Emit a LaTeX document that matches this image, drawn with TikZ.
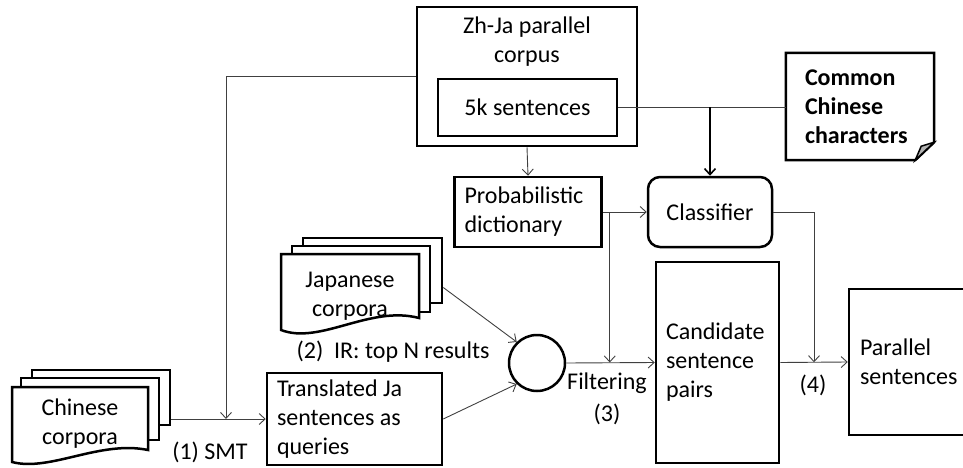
\documentclass[tikz,border=0pt]{standalone}
\usepackage{fontspec}
\setmainfont{Carlito}
\usetikzlibrary{arrows.meta,calc}

\tikzset{
  box/.style={draw, line width=2.5pt, inner sep=0pt, align=center},
  leftbox/.style={box, align=flush left, inner xsep=10pt},
  doc/.style={draw, line width=2.5pt, fill=white},
  wire/.style={draw=black!75, line width=0.9pt},
  link/.style={wire, -{Straight Barb[length=6pt,width=11pt]}},
  tag/.style={inner sep=0pt, align=center},
}

\begin{document}
\begin{tikzpicture}[x=1pt,y=-1pt,font=\fontsize{24}{29}\selectfont]
\useasboundingbox (0,0) rectangle (963,468);
% parallel corpus
\node[box, minimum width=220pt, minimum height=139pt] (zhja) at (527,76.5) {};
\node[tag] (zhjatxt) at (527,42) {Zh-Ja parallel\\corpus};
\node[box, minimum width=179pt, minimum height=57pt] (sent) at (527.5,107.5) {5k sentences};
\node[leftbox, minimum height=70pt, text width=127pt] (dict) at (528,212) {Probabilistic\\dictionary};
\node[box, rounded corners=12pt, minimum width=124pt, minimum height=70pt] (clf) at (710,212) {Classifier};
% note
\node[tag, align=flush left, inner xsep=19pt, text width=110pt, minimum height=107pt,
  font=\fontsize{24}{29}\selectfont\bfseries] (ccc) at (860,106.5) {Common\\Chinese\\characters};
\draw[line width=2.5pt] (ccc.north west) -- (ccc.north east) -- ([yshift=18pt]ccc.south east)
  -- ([xshift=-19pt]ccc.south east) -- (ccc.south west) -- cycle;
\filldraw[line width=1.5pt, fill=gray!60] ([yshift=18pt]ccc.south east)
  -- ([xshift=-13pt,yshift=14pt]ccc.south east) -- ([xshift=-19pt]ccc.south east) -- cycle;
% japanese corpora
\node[doc, minimum width=139pt, minimum height=65pt] (jaback) at (372.5,270.5) {};
\node[doc, minimum width=138pt, minimum height=66pt] (jamid) at (361,279) {};
\draw[doc] (281,254) -- (419,254) -- (419,318) .. controls (370,305) and (320,345) .. (281,330) -- cycle;
\node[tag] (jacorp) at (350,296) {Japanese\\corpora};
% chinese corpora
\node[doc, minimum width=138pt, minimum height=55pt] (zhback) at (101,397.5) {};
\node[doc, minimum width=138pt, minimum height=62pt] (zhmid) at (90,409) {};
\draw[doc] (12,387) -- (148,387) -- (148,450) .. controls (100,440) and (50,472) .. (12,462) -- cycle;
\node[tag] (zhcorp) at (80,424) {Chinese\\corpora};
% pipeline
\node[leftbox, minimum height=92pt, text width=155pt] (transl) at (354.5,419) {Translated Ja\\sentences as\\queries};
\node[draw, circle, line width=2.5pt, minimum size=56pt, inner sep=0pt] (circ) at (537,363) {};
\node[leftbox, minimum height=201pt, text width=103pt] (cand) at (717.5,362.5) {Candidate\\sentence\\pairs};
\node[leftbox, inner xsep=11pt, minimum height=146pt, text width=104pt] (par) at (912,362) {Parallel\\sentences};
% labels
\node[tag] (smt) at (210,452) {(1) SMT};
\node[tag] (ir) at (393,352) {(2)\ \ IR: top N results};
\node[tag] (filt) at (607,399) {Filtering\\[3pt](3)};
\node[tag] (four) at (813,385) {(4)};
\coordinate (join) at (226,419);
% connectors
\draw[link] (zhback.east |- transl.west) -- (transl.west);
\draw[link] (zhja.west) -| (join);
\draw[link] (zhja.south) -- (dict.north);
\draw[wire] (sent.east) -- (sent.east -| ccc.west);
\draw[link, draw=black, line width=1.6pt] (sent.east -| clf.north) -- (clf.north);
\draw[link] (dict.east) -- (clf.west);
\draw[link] ([xshift=7pt]dict.east) -- ([xshift=7pt]dict.east |- cand.west);
\draw[link] (circ.east) -- (cand.west);
\draw[link] (clf.east) -| ($(cand.east)!.5!(par.west)$);
\draw[link] (cand.east) -- (par.west);
\draw[link] ([yshift=-17pt]jaback.east) -- (circ.134);
\draw[link] (transl.east) -- (circ.226);
\end{tikzpicture}
\end{document}
